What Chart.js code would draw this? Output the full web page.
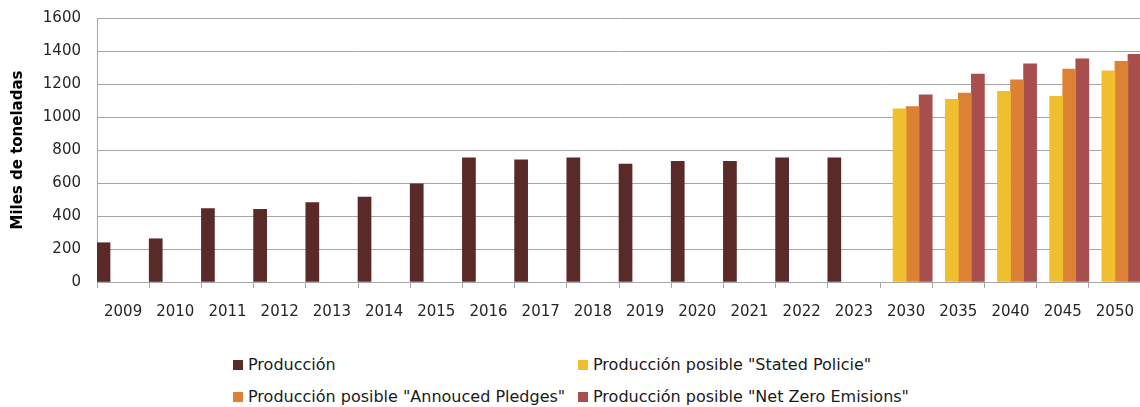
<!DOCTYPE html>
<html>
<head>
<meta charset="utf-8">
<script src="https://cdn.jsdelivr.net/npm/chart.js@4/dist/chart.umd.min.js"></script>
<style>
  body { margin: 0; background: #fff; width: 1140px; height: 407px; overflow: hidden; position: relative; font-family: "DejaVu Sans", sans-serif; }
  #wrap { position: absolute; left: 0; top: -7px; width: 1149px; height: 337px; }
  .leg { position: absolute; font-size: 16px; color: #1a1a1a; white-space: nowrap; line-height: 18px; }
  .leg span.box { display: inline-block; width: 10px; height: 10px; margin-right: 5px; vertical-align: 0px; }
</style>
</head>
<body>
<div id="wrap"><canvas id="chart"></canvas></div>
<div id="legend"></div>
<script>
// Categories
const years = ["2009", "2010", "2011", "2012", "2013", "2014", "2015", "2016", "2017", "2018",
  "2019", "2020", "2021", "2022", "2023", "2030", "2035", "2040", "2045", "2050"];

// Series (miles de toneladas)
const produccion = [238, 262, 445, 440, 482, 515, 595, 752, 740, 752, 715, 731, 731, 752, 752,
  null, null, null, null, null];
const statedPolicies = [null, null, null, null, null, null, null, null, null, null, null, null, null, null, null,
  1050, 1107, 1156, 1126, 1280];
const announcedPledges = [null, null, null, null, null, null, null, null, null, null, null, null, null, null, null,
  1063, 1145, 1226, 1290, 1338];
const netZero = [null, null, null, null, null, null, null, null, null, null, null, null, null, null, null,
  1135, 1260, 1322, 1352, 1380];

const yTicks = [0, 200, 400, 600, 800, 1000, 1200, 1400, 1600];

const series = [
  { label: "Producción", data: produccion, color: "#5a2a28" },
  { label: "Producción posible \"Stated Policie\"", data: statedPolicies, color: "#efbf2f" },
  { label: "Producción posible \"Annouced Pledges\"", data: announcedPledges, color: "#dd8234" },
  { label: "Producción posible \"Net Zero Emisions\"", data: netZero, color: "#a84f4e" }
];

const font = { family: "DejaVu Sans", size: 15 };

new Chart(document.getElementById("chart"), {
  type: "bar",
  data: {
    labels: years,
    datasets: series.map(s => ({
      label: s.label,
      data: s.data,
      backgroundColor: s.color,
      borderWidth: 0,
      barPercentage: 1,
      categoryPercentage: 1
    }))
  },
  options: {
    responsive: true,
    maintainAspectRatio: false,
    animation: false,
    layout: { padding: { top: 11, right: 0, left: 9, bottom: 0 } },
    plugins: { legend: { display: false }, tooltip: { enabled: false } },
    scales: {
      x: {
        afterFit: axis => { axis.height = 48; },
        grid: { display: true, drawOnChartArea: false, drawTicks: true, tickLength: 6, color: "#a6a6a6", offset: true },
        border: { color: "#a6a6a6" },
        ticks: { color: "#262626", font: font, padding: 15, maxRotation: 0, autoSkip: false }
      },
      y: {
        min: 0,
        max: 1600,
        afterBuildTicks: axis => { axis.ticks = yTicks.map(v => ({ value: v })); },
        afterFit: axis => { axis.width = 88; },
        grid: { color: "#a6a6a6", drawTicks: false },
        border: { color: "#a6a6a6" },
        ticks: { color: "#262626", font: font, padding: 16, callback: v => String(v) },
        title: {
          display: true,
          text: "Miles de toneladas",
          color: "#000",
          font: { family: "DejaVu Sans", size: 15, weight: "bold" },
          padding: 0
        }
      }
    }
  }
});

// Legend in two columns, like the original
const legend = document.getElementById("legend");
const positions = [[233, 356], [578, 356], [233, 388], [578, 388]];
series.forEach((s, i) => {
  const d = document.createElement("div");
  d.className = "leg";
  d.style.left = positions[i][0] + "px";
  d.style.top = positions[i][1] + "px";
  d.innerHTML = '<span class="box" style="background:' + s.color + '"></span>';
  d.appendChild(document.createTextNode(s.label));
  legend.appendChild(d);
});
</script>
</body>
</html>
